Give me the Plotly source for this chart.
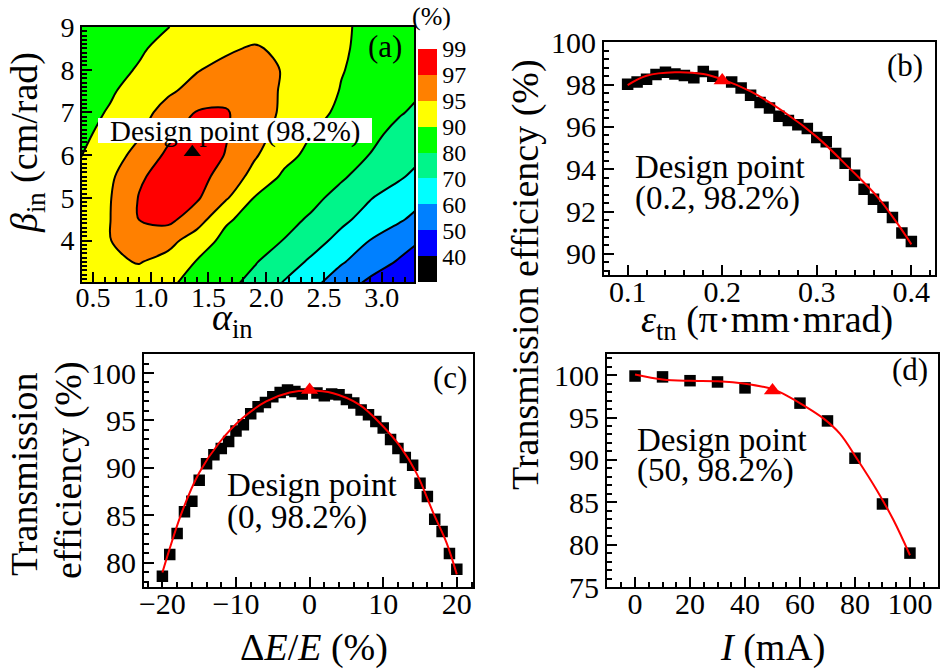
import numpy as np
import plotly.graph_objects as go

W, H = 946, 671
FONT = "Liberation Serif"


def X(px):
    return px / W


def Y(py):
    return 1 - py / H


# ---------------- (a) contour: transmission efficiency vs alpha_in / beta_in ----------------
alpha_grid = [0.4, 0.65, 0.9, 1.15, 1.4, 1.65, 1.9, 2.15, 2.4, 2.65, 2.9, 3.15, 3.3]
beta_grid = [3.0, 3.5, 4.0, 4.5, 5.0, 5.5, 6.0, 6.5, 7.0, 7.5, 8.0, 8.5, 9.0]
eff_grid = [
    [91.75, 92.55, 92.35, 90.65, 87.3, 82.7, 77.0, 69.4, 62.3, 54.7, 47.9, 42.7, 39.7],
    [92.25, 94.15, 95.11, 93.15, 89.5, 85.1, 80.7, 74.75, 68.2, 60.9, 54.9, 49.1, 45.5],
    [92.5, 94.9, 96.12, 95.7, 92.35, 87.5, 83.7, 79.8, 73.7, 67.1, 59.8, 54.3, 51.0],
    [92.5, 94.95, 97.04, 97.5, 95.96, 90.65, 86.6, 82.9, 78.7, 72.1, 66.5, 61.25, 57.8],
    [92.25, 94.8, 97.1, 98.02, 97.24, 95.24, 89.6, 85.8, 82.1, 77.1, 70.5, 65.6, 62.8],
    [91.5, 94.15, 96.72, 97.84, 97.62, 96.32, 93.3, 88.6, 84.8, 81.1, 76.3, 71.2, 68.0],
    [89.8, 92.9, 95.62, 97.38, 98.08, 96.92, 95.22, 91.45, 87.5, 83.7, 79.8, 74.9, 72.0],
    [88.0, 91.6, 94.5, 96.52, 97.78, 97.14, 95.7, 93.25, 89.9, 86.0, 82.1, 77.7, 74.7],
    [87.0, 90.4, 93.3, 95.68, 97.12, 97.16, 96.02, 94.2, 91.45, 88.2, 84.5, 80.7, 78.7],
    [86.0, 89.0, 91.75, 94.35, 95.58, 96.36, 95.66, 94.6, 92.15, 89.6, 86.3, 83.0, 81.0],
    [86.0, 88.1, 90.25, 92.5, 94.75, 95.5, 95.52, 94.8, 92.5, 90.2, 87.4, 84.7, 83.0],
    [85.5, 87.3, 89.2, 90.95, 92.65, 94.3, 95.2, 93.95, 92.2, 90.4, 88.2, 85.9, 84.5],
    [85.0, 86.6, 88.3, 89.9, 90.9, 91.85, 92.8, 92.3, 91.35, 90.4, 88.7, 86.4, 85.0],
]
contour_levels = [40, 50, 60, 70, 80, 90, 95, 97, 99]
level_colors = ["#000000", "#0000FF", "#0080FF", "#00FFFF", "#00F58A",
                "#00FF00", "#FFFF00", "#FF8000", "#FF0000", "#FF0000"]
design_a_alpha = [1.36]
design_a_beta = [6.07]

# ---------------- (b) emittance scan ----------------
b_x = [0.10, 0.11, 0.12, 0.13, 0.14, 0.15, 0.16, 0.17, 0.18, 0.19, 0.21, 0.22, 0.23,
       0.24, 0.25, 0.26, 0.27, 0.28, 0.29, 0.30, 0.31, 0.32, 0.33, 0.34, 0.35, 0.36,
       0.37, 0.38, 0.39, 0.40]
b_y = [98.02, 98.12, 98.25, 98.48, 98.58, 98.5, 98.43, 98.32, 98.62, 98.4, 98.12, 97.84,
       97.5, 97.15, 96.9, 96.5, 96.3, 96.1, 95.93, 95.5, 95.3, 94.75, 94.28, 93.72, 93.05,
       92.58, 92.2, 91.72, 90.98, 90.58]
b_fit_x = [0.10, 0.12, 0.15, 0.18, 0.20, 0.23, 0.265, 0.30, 0.335, 0.365, 0.385, 0.40]
b_fit_y = [97.98, 98.42, 98.58, 98.5, 98.25, 97.68, 96.72, 95.53, 94.03, 92.65, 91.45, 90.45]
b_design = ([0.2], [98.2])

# ---------------- (c) energy spread scan ----------------
c_x = [-20, -19, -18, -17, -16, -15, -14, -13, -12, -11, -10, -9, -8, -7, -6, -5, -4, -3,
       -2, -1, 1, 2, 3, 4, 5, 6, 7, 8, 9, 10, 11, 12, 13, 14, 15, 16, 17, 18, 19, 20]
c_y = [78.6, 80.9, 83.1, 85.4, 86.5, 88.7, 90.45, 91.4, 92.05, 92.8, 93.9, 94.55, 95.7,
       96.45, 96.9, 97.5, 97.95, 98.2, 98.05, 97.8, 97.9, 97.6, 97.8, 97.7, 97.2, 96.85,
       96.1, 95.6, 94.9, 94.2, 93.0, 92.05, 91.1, 90.3, 88.4, 87.0, 84.6, 83.3, 81.0, 79.35]
c_fit_x = [-20, -17.3, -15, -12.3, -9.1, -5.9, -2.7, 0, 3.2, 6.8, 10, 12.3, 14.5, 16.8, 18.6, 20]
c_fit_y = [78.99, 85.45, 89.5, 92.63, 95.25, 97.0, 97.94, 98.15, 97.87, 96.65, 94.37, 92.27,
           89.48, 85.28, 82.14, 78.8]
c_design = ([0], [98.2])

# ---------------- (d) current scan ----------------
d_x = [0, 10, 20, 30, 40, 60, 70, 80, 90, 100]
d_y = [99.9, 99.8, 99.35, 99.2, 98.5, 96.7, 94.6, 90.2, 84.8, 79.0]
d_fit_x = [0, 10, 20, 30, 40, 50, 56, 61, 68.5, 74.5, 80.6, 88, 94, 100]
d_fit_y = [100.08, 99.5, 99.33, 99.28, 99.0, 98.35, 97.45, 96.5, 94.9, 93.1, 90.2, 86.4, 82.9, 78.75]
d_design = ([50], [98.2])

# ---------------------------------------------------------------------------------------
lev_pct = [30] + contour_levels + [100]
lev_idx = list(range(0, len(contour_levels) + 1)) + [len(contour_levels) + 0.5]
z_idx = np.interp(np.array(eff_grid), lev_pct, lev_idx)

n = len(contour_levels)
fill_scale = [[k / n, c] for k, c in enumerate(level_colors)]
step_scale = []
for k in range(n):
    step_scale.append([k / n, level_colors[k]])
    step_scale.append([(k + 1) / n, level_colors[k]])

fig = go.Figure()

fig.add_trace(go.Contour(
    x=alpha_grid, y=beta_grid, z=z_idx, xaxis="x", yaxis="y",
    contours=dict(start=1, end=n, size=1, coloring="fill"),
    colorscale=fill_scale, showscale=False,
    line=dict(color="black", width=2, smoothing=1.0),
    hoverinfo="skip",
))
fig.add_trace(go.Scatter(
    x=design_a_alpha, y=design_a_beta, mode="markers", xaxis="x", yaxis="y",
    marker=dict(symbol="triangle-up", size=15, color="black"), showlegend=False,
))
# colour bar (discrete bands)
fig.add_trace(go.Scatter(
    x=[-10], y=[-10], mode="markers", xaxis="x", yaxis="y", showlegend=False,
    marker=dict(color=[0], cmin=0, cmax=n, colorscale=step_scale, showscale=True,
                colorbar=dict(
                    tickvals=list(range(1, n + 1)),
                    ticktext=[str(v) for v in contour_levels],
                    ticks="", outlinewidth=0,
                    thicknessmode="pixels", thickness=19,
                    lenmode="pixels", len=233,
                    x=X(418), xanchor="left", y=Y(282), yanchor="bottom",
                    xpad=0, ypad=0,
                    tickfont=dict(family=FONT, size=24, color="black"),
                )),
))

for (xs, ys, fx, fy, dsg, ax) in [
    (b_x, b_y, b_fit_x, b_fit_y, b_design, "2"),
    (c_x, c_y, c_fit_x, c_fit_y, c_design, "3"),
    (d_x, d_y, d_fit_x, d_fit_y, d_design, "4"),
]:
    fig.add_trace(go.Scatter(x=xs, y=ys, mode="markers", xaxis="x" + ax, yaxis="y" + ax,
                             marker=dict(symbol="square", size=11.5, color="black"),
                             showlegend=False))
    fig.add_trace(go.Scatter(x=fx, y=fy, mode="lines", xaxis="x" + ax, yaxis="y" + ax,
                             line=dict(color="red", width=2, shape="spline", smoothing=1.0),
                             showlegend=False))
    fig.add_trace(go.Scatter(x=dsg[0], y=dsg[1], mode="markers", xaxis="x" + ax, yaxis="y" + ax,
                             marker=dict(symbol="triangle-up", size=15, color="red"),
                             showlegend=False))


def axis(letter, domain, rng, dtick, minor_dtick, fmt=None, size=30):
    d = dict(domain=domain, range=rng, showline=True, linecolor="black", linewidth=2,
             mirror=True, ticks="inside", ticklen=10, tickwidth=1.5, tickcolor="black",
             showgrid=False, zeroline=False, dtick=dtick, automargin=False,
             minor=dict(ticks="inside", ticklen=5, tickwidth=1.5, tickcolor="black",
                        dtick=minor_dtick, showgrid=False),
             tickfont=dict(family=FONT, size=size, color="black"))
    if letter == "x":
        d["ticklabelstandoff"] = -11
    if fmt:
        d["tickformat"] = fmt
    return d


layout = dict(
    width=W, height=H, margin=dict(l=0, r=0, t=0, b=0, autoexpand=False),
    paper_bgcolor="white", plot_bgcolor="white", showlegend=False,
    font=dict(family=FONT, color="black"),
    xaxis=axis("x", [X(82), X(414)], [0.405, 3.28], 0.5, 0.1, ".1f", 28),
    yaxis=axis("y", [Y(282), Y(27)], [3.03, 9.0], 1, 0.1, None, 28),
    xaxis2=axis("x", [X(604), X(935)], [0.075, 0.425], 0.1, 0.02, ".1f"),
    yaxis2=axis("y", [Y(275), Y(41.7)], [89, 100.03], 2, 0.4),
    xaxis3=axis("x", [X(144), X(473)], [-22.5, 22.2], 10, 2),
    yaxis3=axis("y", [Y(586.7), Y(354)], [77.5, 102], 5, 1),
    xaxis4=axis("x", [X(607), X(938)], [-10.2, 110.2], 20, 5),
    yaxis4=axis("y", [Y(587), Y(354)], [75, 102.5], 5, 1),
)
for i in ["", "2", "3", "4"]:
    layout["xaxis" + i]["anchor"] = "y" + i
    layout["yaxis" + i]["anchor"] = "x" + i

fig.update_layout(**layout)


def ann(text, px, py, size, angle=0, xanchor="center"):
    fig.add_annotation(text=text, x=X(px), y=Y(py), xref="paper", yref="paper",
                       showarrow=False, textangle=angle, xanchor=xanchor, yanchor="middle",
                       font=dict(family=FONT, size=size, color="black"))


# white box behind (a) label
fig.add_shape(type="rect", xref="paper", yref="paper", x0=X(98), x1=X(372), y0=Y(143), y1=Y(118),
              fillcolor="white", line=dict(width=0), layer="above")

# axis titles
TS = 38
ann("<i>β</i><sub>in</sub> (cm/rad)", 27, 143, TS, -90)
ann("<i>α</i><sub>in</sub>", 232, 320, TS)
ann("<i>ε</i><sub>tn</sub> (π·mm·mrad)", 767, 322, TS)
ann("Transmission efficiency (%)", 525, 275, TS, -90)
ann("Transmission", 24, 475, TS, -90)
ann("efficiency (%)", 68, 470, TS, -90)
ann("Δ<i>E</i>/<i>E</i> (%)", 314, 647, TS)
ann("<i>I</i> (mA)", 772, 647, TS)

# panel labels
ann("(a)", 385, 47, 31)
ann("(b)", 905, 65, 31)
ann("(c)", 450, 377, 31)
ann("(d)", 910, 369, 31)
ann("(%)", 431, 17, 26)

# design point labels
ann("Design point (98.2%)", 235, 131, 29)
ann("Design point", 633, 167, 33, xanchor="left")
ann("(0.2, 98.2%)", 633, 199, 33, xanchor="left")
ann("Design point", 225, 485, 33, xanchor="left")
ann("(0, 98.2%)", 225, 517, 33, xanchor="left")
ann("Design point", 635, 440, 33, xanchor="left")
ann("(50, 98.2%)", 635, 470, 33, xanchor="left")

fig.write_html("out.html", config={"displayModeBar": False},
               post_script="document.body.style.margin='0px';")
